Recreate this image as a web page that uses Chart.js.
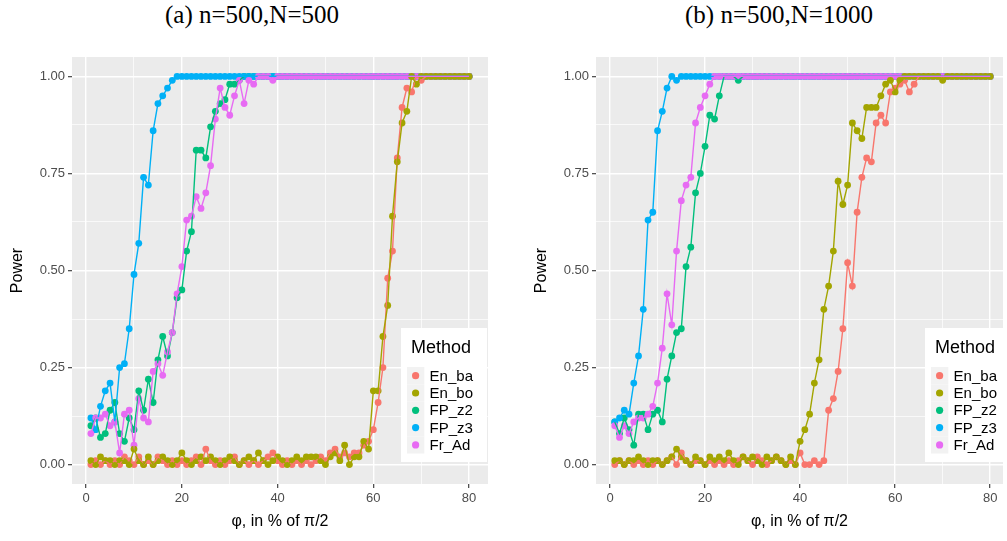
<!DOCTYPE html>
<html>
<head>
<meta charset="utf-8">
<script src="https://cdn.jsdelivr.net/npm/chart.js@4.4.1/dist/chart.umd.min.js"></script>
<style>
    html, body { margin: 0; padding: 0; background: #fff; overflow: hidden; }
    body { width: 1007px; height: 541px; position: relative; }
    canvas { position: absolute; top: 0; }
    .title { position: absolute; top: 2px; font-family: "Liberation Serif", "Times New Roman", serif; font-size: 25px; line-height: 25px; color: #000; white-space: nowrap; text-align: center; }
</style>
</head>
<body>
<div class="title" style="left:0; width:504px;">(a) n=500,N=500</div>
<div class="title" style="left:579px; width:400px;">(b) n=500,N=1000</div>
<canvas id="chartA" width="504" height="541" style="left:0;"></canvas>
<canvas id="chartB" width="483" height="541" style="left:524px;"></canvas>
<script>
// phi, in % of pi/2
const phi = [1,2,3,4,5,6,7,8,9,10,11,12,13,14,15,16,17,18,19,20,21,22,23,24,25,26,27,28,29,30,
    31,32,33,34,35,36,37,38,39,40,41,42,43,44,45,46,47,48,49,50,51,52,53,54,55,56,57,58,59,60,
    61,62,63,64,65,66,67,68,69,70,71,72,73,74,75,76,77,78,79,80];

const methods = ['En_ba', 'En_bo', 'FP_z2', 'FP_z3', 'Fr_Ad'];
const xTicks = [0, 10, 20, 30, 40, 50, 60, 70, 80];
const yTicks = [0, 0.125, 0.25, 0.375, 0.5, 0.625, 0.75, 0.875, 1];

// (a) n=500, N=500
const enBaA = [0,0.01,0,0.01,0,0.01,0,0.02,0.01,0, 0.02,0,0.01,0,0.02,0.01,0,0.01,0,0.01,
    0,0.01,0.02,0,0.04,0.01,0,0.01,0,0.01, 0.02,0,0.01,0,0.01,0,0.01,0.02,0.03,0.01,
    0,0.01,0,0.01,0,0.01,0,0.01,0.02,0.01, 0.03,0.04,0.02,0.03,0.02,0.03,0.03,0.05,0.06,0.09,
    0.16,0.25,0.48,0.55,0.79,0.92,0.97,0.96,1,0.99, 1,1,1,1,1,1,1,1,1,1];
const enBoA = [0.01,0,0.02,0.01,0.01,0,0.01,0.01,0,0.04, 0.01,0,0.02,0,0.01,0.02,0.01,0,0.01,0.03,
    0.01,0,0.01,0.02,0.01,0.02,0.01,0,0.01,0.02, 0.01,0,0.01,0.02,0.01,0.03,0.01,0,0.01,0.02,
    0.01,0,0.01,0.02,0.01,0.02,0.02,0.02,0.01,0, 0.02,0.03,0.01,0.05,0,0.02,0.02,0.06,0.04,0.19,
    0.19,0.33,0.41,0.64,0.78,0.88,0.91,1,0.98,1, 1,1,1,1,1,1,1,1,1,1];
const fpZ2A = [0.10,0.12,0.07,0.08,0.14,0.16,0.08,0.06,0.12,0.09, 0.19,0.14,0.22,0.16,0.27,0.33,0.28,0.34,0.43,0.45,
    0.55,0.60,0.81,0.81,0.79,0.87,0.91,0.93,0.94,0.98, 0.98,0.99,1,1,1,1,1,1,1,1,
    1,1,1,1,1,1,1,1,1,1, 1,1,1,1,1,1,1,1,1,1,
    1,1,1,1,1,1,1,1,1,1, 1,1,1,1,1,1,1,1,1,1];
const fpZ3A = [0.12,0.09,0.15,0.19,0.21,0.11,0.25,0.26,0.35,0.49, 0.57,0.74,0.72,0.86,0.93,0.95,0.97,0.99,1,1,
    1,1,1,1,1,1,1,1,1,1, 1,1,1,1,1,1,1,1,1,1,
    1,1,1,1,1,1,1,1,1,1, 1,1,1,1,1,1,1,1,1,1,
    1,1,1,1,1,1,1,1,1,1, 1,1,1,1,1,1,1,1,1,1];
const frAdA = [0.08,0.12,0.12,0.13,0.10,0.11,0.03,0.13,0.14,0.05, 0.17,0.12,0.11,0.24,0.26,0.23,0.29,0.34,0.44,0.51,
    0.63,0.64,0.69,0.66,0.70,0.77,0.89,0.97,0.92,0.90, 0.95,0.99,0.93,0.99,0.98,1,1,1,0.99,1,
    1,1,1,1,1,1,1,1,1,1, 1,1,1,1,1,1,1,1,1,1,
    1,1,1,1,1,1,1,1,1,1, 1,1,1,1,1,1,1,1,1,1];

// (b) n=500, N=1000
const enBaB = [0,0.01,0,0.01,0,0.01,0,0.01,0,0.01, 0,0.01,0.02,0,0.03,0.01,0,0.01,0.01,0,
    0.01,0,0.01,0,0.01,0,0.01,0.02,0.01,0, 0.02,0.01,0,0.01,0.02,0.01,0,0.01,0,0.03,
    0,0,0.01,0,0.01,0.14,0.17,0.24,0.35,0.52, 0.46,0.65,0.74,0.79,0.78,0.88,0.90,0.88,0.96,0.97,
    0.98,0.99,0.96,0.98,1,1,1,1,1,1, 1,1,1,1,1,1,1,1,1,1];
const enBoB = [0.01,0.01,0,0.01,0.01,0.02,0.01,0,0.01,0.01, 0,0.01,0.02,0.04,0.02,0.01,0,0.02,0.01,0,
    0.02,0.01,0.02,0.01,0.03,0.01,0,0.02,0.01,0.02, 0.01,0,0.02,0.01,0.02,0.01,0,0.02,0,0.06,
    0.09,0.13,0.21,0.27,0.40,0.46,0.55,0.73,0.67,0.72, 0.88,0.86,0.84,0.92,0.92,0.92,0.95,0.98,0.99,0.96,
    0.99,1,1,1,1,1,1,1,1,0.99, 1,1,1,1,1,1,1,1,1,1];
const fpZ2B = [0.11,0.08,0.12,0.09,0.05,0.13,0.13,0.09,0.13,0.14, 0.11,0.22,0.28,0.34,0.35,0.51,0.56,0.70,0.75,0.82,
    0.90,0.89,0.95,1,1,1,0.99,1,1,1, 1,1,1,1,1,1,1,1,1,1,
    1,1,1,1,1,1,1,1,1,1, 1,1,1,1,1,1,1,1,1,1,
    1,1,1,1,1,1,1,1,1,1, 1,1,1,1,1,1,1,1,1,1];
const fpZ3B = [0.11,0.12,0.14,0.13,0.21,0.28,0.40,0.63,0.65,0.86, 0.91,0.97,1,0.99,1,1,1,1,1,1,
    1,1,1,1,1,1,1,1,1,1, 1,1,1,1,1,1,1,1,1,1,
    1,1,1,1,1,1,1,1,1,1, 1,1,1,1,1,1,1,1,1,1,
    1,1,1,1,1,1,1,1,1,1, 1,1,1,1,1,1,1,1,1,1];
const frAdB = [0.10,0.07,0.10,0.08,0.11,0.12,0.12,0.13,0.15,0.21, 0.30,0.44,0.36,0.55,0.68,0.72,0.74,0.88,0.92,0.95,
    0.98,1,1,1,1,1,1,1,1,1, 1,1,1,1,1,1,1,1,1,1,
    1,1,1,1,1,1,1,1,1,1, 1,1,1,1,1,1,1,1,1,1,
    1,1,1,1,1,1,1,1,1,1, 1,1,1,1,1,1,1,1,1,1];

const colors = ['#F8766D', '#A3A500', '#00BF7D', '#00B0F6', '#E76BF3'];
const sansFont = '"Liberation Sans", Arial, sans-serif';
// lower order = drawn later; olive points sit on top of the other points, lines above all points
const lineOrder = [5, 4, 3, 2, 1];
const pointOrder = [10, 6, 9, 8, 7];

// grey panel behind the grid
const panelBg = {
    id: 'panelBg',
    beforeDraw(chart) {
        const { ctx, chartArea: a } = chart;
        ctx.save();
        ctx.fillStyle = '#EBEBEB';
        ctx.fillRect(a.left, a.top, a.right - a.left, a.bottom - a.top);
        ctx.restore();
    }
};

// ggplot style legend box inside the panel
const methodLegend = {
    id: 'methodLegend',
    afterDraw(chart, args, opts) {
        const ctx = chart.ctx;
        const x = opts.x, y = opts.y;
        ctx.save();
        ctx.fillStyle = '#fff';
        ctx.fillRect(x, y, 86, 134);
        ctx.textBaseline = 'middle';
        ctx.fillStyle = '#000';
        ctx.font = '18px ' + sansFont;
        ctx.fillText('Method', x + 10, y + 20);
        methods.forEach((m, k) => {
            const cy = y + 47.7 + k * 17.3;
            ctx.fillStyle = '#F2F2F2';
            ctx.fillRect(x + 6, cy - 8.65, 17.3, 17.3);
            ctx.fillStyle = colors[k];
            ctx.beginPath();
            ctx.arc(x + 14.6, cy, 3.6, 0, Math.PI * 2);
            ctx.fill();
            ctx.fillStyle = '#000';
            ctx.font = '15px ' + sansFont;
            ctx.fillText(m, x + 28.6, cy + 1);
        });
        ctx.restore();
    }
};

function isMajor(v, step) {
    return Math.abs(v / step - Math.round(v / step)) < 1e-9;
}

function buildDatasets(series) {
    const sets = [];
    series.forEach((vals, k) => {
        const pts = phi.map((x, i) => ({ x: x, y: vals[i] }));
        sets.push({
            label: methods[k] + ' line',
            data: pts,
            showLine: true,
            pointRadius: 0,
            borderColor: colors[k],
            borderWidth: 1.4,
            order: lineOrder[k]
        });
        sets.push({
            label: methods[k],
            data: pts,
            showLine: false,
            pointRadius: 3.4,
            pointBorderWidth: 0,
            pointBackgroundColor: colors[k],
            order: pointOrder[k]
        });
    });
    return sets;
}

function makeChart(canvasId, series, xMax, padRight) {
    const ctx = document.getElementById(canvasId).getContext('2d');
    return new Chart(ctx, {
        type: 'scatter',
        data: { datasets: buildDatasets(series) },
        options: {
            responsive: false,
            animation: false,
            devicePixelRatio: 1,
            layout: { padding: { top: 57, right: padRight, bottom: 0, left: 0 } },
            plugins: {
                legend: { display: false },
                tooltip: { enabled: false },
                methodLegend: { x: 401, y: 328 }
            },
            scales: {
                x: {
                    type: 'linear',
                    min: -2.95,
                    max: xMax,
                    afterBuildTicks: ax => { ax.ticks = xTicks.map(v => ({ value: v })); },
                    afterFit: ax => { ax.height = 57; },
                    border: { display: false },
                    grid: {
                        color: '#fff',
                        lineWidth: c => isMajor(c.tick.value, 20) ? 1.4 : 0.7,
                        tickColor: c => isMajor(c.tick.value, 20) ? '#333' : 'rgba(0,0,0,0)',
                        tickWidth: 1.1,
                        tickLength: 4
                    },
                    ticks: {
                        autoSkip: false,
                        maxRotation: 0,
                        padding: 3,
                        color: '#4D4D4D',
                        font: { family: sansFont, size: 13 },
                        callback: v => isMajor(v, 20) ? String(v) : ''
                    },
                    title: {
                        display: true,
                        text: 'φ, in % of π/2',
                        color: '#000',
                        font: { family: sansFont, size: 16 },
                        padding: { top: 0, bottom: 10 }
                    }
                },
                y: {
                    min: -0.05,
                    max: 1.05,
                    afterBuildTicks: ax => { ax.ticks = yTicks.map(v => ({ value: v })); },
                    afterFit: ax => { ax.width = 72; },
                    border: { display: false },
                    grid: {
                        color: '#fff',
                        lineWidth: c => isMajor(c.tick.value, 0.25) ? 1.4 : 0.7,
                        tickColor: c => isMajor(c.tick.value, 0.25) ? '#333' : 'rgba(0,0,0,0)',
                        tickWidth: 1.1,
                        tickLength: 4
                    },
                    ticks: {
                        autoSkip: false,
                        padding: 3,
                        color: '#4D4D4D',
                        font: { family: sansFont, size: 13 },
                        callback: v => isMajor(v, 0.25) ? v.toFixed(2) : ''
                    },
                    title: {
                        display: true,
                        text: 'Power',
                        color: '#000',
                        font: { family: sansFont, size: 16 },
                        padding: { top: 8, bottom: 0 }
                    }
                }
            }
        },
        plugins: [panelBg, methodLegend]
    });
}

makeChart('chartA', [enBaA, enBoA, fpZ2A, fpZ3A, frAdA], 83.95, 16);
makeChart('chartB', [enBaB, enBoB, fpZ2B, fpZ3B, frAdB], 82.7, 0);
</script>
</body>
</html>
